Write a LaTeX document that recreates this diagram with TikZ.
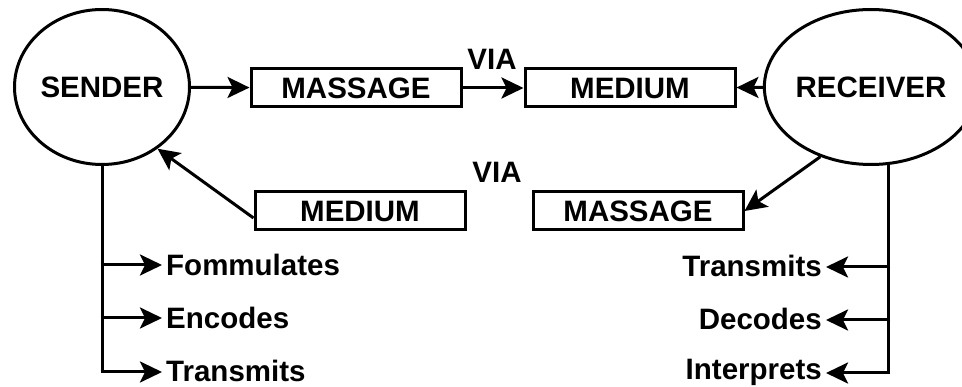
\documentclass[tikz,border=0pt]{standalone}
\usepackage{fontspec}
\setmainfont{Liberation Sans}
\usetikzlibrary{shapes.geometric,arrows.meta,calc}
\begin{document}
\begin{tikzpicture}[x=1pt,y=-1pt,
  every node/.style={font=\fontsize{29.5}{31}\selectfont\bfseries},
  party/.style={ellipse,draw,line width=3pt,minimum width=175pt,minimum height=155pt,inner sep=0pt},
  msgbox/.style={rectangle,draw,line width=3pt,minimum width=210pt,minimum height=38pt,inner sep=0pt},
  act/.style={inner sep=4pt,text height=21pt,text depth=0pt},
  arr/.style={line width=3pt,-{Stealth[length=22pt,width=21pt,inset=5pt]}},
  wire/.style={line width=3pt}]
\useasboundingbox (0,0) rectangle (962,387);

% the two parties
\node[party] (sender) at (102,87) {SENDER};
\node[party] (receiver) at (871,87) {RECEIVER};

% upper channel
\node[msgbox] (mass1) at (356,88) {MASSAGE};
\node[msgbox] (med1) at (630,88) {MEDIUM};
\node (via1) at (492,59) {VIA};

% lower channel
\node[msgbox] (med2) at (360,211) {MEDIUM};
\node[msgbox] (mass2) at (638,211) {MASSAGE};
\node (via2) at (497,172) {VIA};

\draw[arr] (sender) -- (mass1);
\draw[arr] (mass1) -- (med1);
\draw[arr] (receiver) -- (med1);
\draw[arr] ($(med2.west)+(0,7)$) -- (sender.-48);
\draw[arr] (receiver.-126.6) -- (mass2.east);

% sender activities
\node[act,anchor=west] (f1) at (162,265) {Fommulates};
\node[act,anchor=west] (f2) at (162,318) {Encodes};
\node[act,anchor=west] (f3) at (162,371) {Transmits};
\draw[wire] (sender.south) -- ($(sender.south |- f3)+(0,1)$);
\foreach \n in {f1,f2}
  \draw[arr] ($(sender.south |- \n)+(-1.5,0)$) -- (\n.west);
\draw[arr] ($(sender.south |- f3)+(-1.5,1)$) -- ($(f3.west)+(0,1)$);

% receiver activities
\node[act,anchor=east] (r1) at (826,266) {Transmits};
\node[act,anchor=east] (r2) at (826,319) {Decodes};
\node[act,anchor=east] (r3) at (826,369) {Interprets};
\coordinate (rdrop) at ($(receiver.-77.6 |- r3)+(0,4)$);
\draw[wire] (receiver.-77.6) -- (rdrop);
\foreach \n in {r1,r2}
  \draw[arr] ($(receiver.-77.6 |- \n)+(1.5,1)$) -- ($(\n.east)+(0,1)$);
\draw[arr] ($(rdrop)+(1.5,0)$) -- ($(r3.east)+(0,4)$);
\end{tikzpicture}
\end{document}
